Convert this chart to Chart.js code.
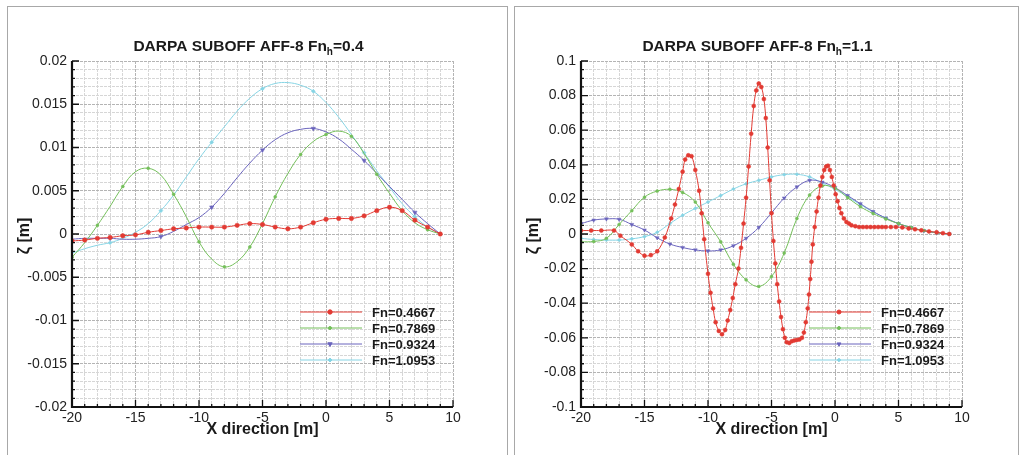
<!DOCTYPE html>
<html>
<head>
<meta charset="utf-8">
<script src="https://cdn.jsdelivr.net/npm/chart.js@4.4.0/dist/chart.umd.min.js"></script>
<style>
  html, body { margin: 0; padding: 0; background: #fff; }
  body { width: 1024px; height: 455px; position: relative; overflow: hidden; }
  .panel { position: absolute; top: 6px; height: 470px; border: 1px solid #a8a8a8; box-sizing: border-box; }
  #p1 { left: 7px; width: 501px; }
  #p2 { left: 514px; width: 505px; }
  canvas { position: absolute; }
  #c1 { left: 8px; top: 7px; }
  #c2 { left: 515px; top: 7px; }
</style>
</head>
<body>
<div class="panel" id="p1"></div>
<div class="panel" id="p2"></div>
<canvas id="c1" width="498" height="448"></canvas>
<canvas id="c2" width="502" height="448"></canvas>
<script>
// legend labels
const seriesNames = ['Fn=0.4667', 'Fn=0.7869', 'Fn=0.9324', 'Fn=1.0953'];

// left chart, Fn_h = 0.4 (x every 1 m)
const xLeft = [-20, -19, -18, -17, -16, -15, -14, -13, -12, -11, -10, -9, -8, -7, -6, -5, -4, -3, -2, -1, 0, 1, 2, 3, 4, 5, 6, 7, 8, 9];
const leftFn04667 = [-0.0008, -0.0007, -0.0005, -0.0004, -0.0002, -0.0001, 0.0002, 0.0004, 0.0006, 0.0007, 0.0008, 0.0008, 0.0008, 0.0010, 0.0012, 0.0011, 0.0008, 0.0006, 0.0008, 0.0013, 0.0017, 0.0018, 0.0018, 0.0021, 0.0027, 0.0031, 0.0027, 0.0016, 0.0008, 0.0000];
const leftFn07869 = [-0.0027, -0.0010, 0.0010, 0.0032, 0.0055, 0.0072, 0.0076, 0.0068, 0.0046, 0.0020, -0.0009, -0.0029, -0.0038, -0.0032, -0.0015, 0.0012, 0.0043, 0.0070, 0.0092, 0.0107, 0.0115, 0.0119, 0.0113, 0.0093, 0.0069, 0.0047, 0.0027, 0.0013, 0.0005, 0.0000];
const leftFn09324 = [-0.0006, -0.0005, -0.0005, -0.0005, -0.0006, -0.0006, -0.0005, -0.0003, 0.0003, 0.0011, 0.0019, 0.0031, 0.0047, 0.0065, 0.0082, 0.0097, 0.0109, 0.0117, 0.0121, 0.0122, 0.0118, 0.0110, 0.0098, 0.0085, 0.0070, 0.0055, 0.0040, 0.0025, 0.0012, 0.0000];
const leftFn10953 = [-0.0022, -0.0017, -0.0013, -0.0010, -0.0005, 0.0002, 0.0012, 0.0027, 0.0045, 0.0066, 0.0087, 0.0106, 0.0124, 0.0142, 0.0157, 0.0168, 0.0174, 0.0175, 0.0172, 0.0165, 0.0152, 0.0135, 0.0115, 0.0094, 0.0073, 0.0054, 0.0035, 0.0020, 0.0008, 0.0000];

// right chart, Fn_h = 1.1
const xRightRed = [-20, -19.2, -18.4, -17.4, -16.9, -16, -15.5, -15, -14.5, -14, -13.4, -12.9, -12.6, -12.3, -12, -11.8, -11.55, -11.3, -11, -10.7, -10.5, -10.3, -10, -9.8, -9.6, -9.4, -9.15, -8.9, -8.65, -8.45, -8.25, -8.05, -7.85, -7.6, -7.4, -7.2, -7, -6.8, -6.6, -6.4, -6.2, -6, -5.8, -5.6, -5.45, -5.3, -5.15, -5, -4.85, -4.7, -4.55, -4.4, -4.25, -4.1, -3.95, -3.8, -3.6, -3.4, -3.2, -3, -2.8, -2.6, -2.45, -2.3, -2.15, -2.05, -1.95, -1.85, -1.75, -1.6, -1.45, -1.3, -1.15, -1, -0.85, -0.7, -0.55, -0.4, -0.25, -0.1, 0.05, 0.2, 0.35, 0.5, 0.7, 0.9, 1.1, 1.3, 1.6, 1.9, 2.2, 2.5, 2.8, 3.1, 3.4, 3.7, 4, 4.4, 4.8, 5.3, 5.8, 6.3, 6.8, 7.4, 8, 8.5, 9];
const rightFn04667 = [0.002, 0.002, 0.002, 0.002, -0.001, -0.006, -0.010, -0.0125, -0.0122, -0.010, -0.002, 0.009, 0.017, 0.026, 0.036, 0.043, 0.0455, 0.045, 0.037, 0.025, 0.012, -0.003, -0.023, -0.034, -0.043, -0.051, -0.056, -0.058, -0.0555, -0.050, -0.044, -0.037, -0.029, -0.020, -0.008, 0.006, 0.021, 0.039, 0.058, 0.074, 0.083, 0.087, 0.085, 0.078, 0.067, 0.050, 0.031, 0.012, -0.004, -0.017, -0.029, -0.039, -0.048, -0.055, -0.060, -0.0625, -0.063, -0.062, -0.0615, -0.0612, -0.061, -0.060, -0.057, -0.051, -0.043, -0.035, -0.026, -0.016, -0.006, 0.004, 0.013, 0.021, 0.028, 0.033, 0.037, 0.039, 0.0395, 0.037, 0.033, 0.028, 0.023, 0.019, 0.015, 0.012, 0.009, 0.007, 0.006, 0.005, 0.0045, 0.004, 0.004, 0.004, 0.004, 0.004, 0.004, 0.004, 0.004, 0.004, 0.004, 0.0038, 0.0032, 0.0027, 0.0021, 0.0015, 0.001, 0.0005, 0.0];
const xRight = [-20, -19, -18, -17, -16, -15, -14, -13, -12, -11, -10, -9, -8, -7, -6, -5, -4, -3, -2, -1, 0, 1, 2, 3, 4, 5, 6, 7, 8, 9];
const rightFn07869 = [-0.0045, -0.0043, -0.0025, 0.0055, 0.0135, 0.0213, 0.0248, 0.0258, 0.0240, 0.0185, 0.0065, -0.0045, -0.0175, -0.0265, -0.0303, -0.0246, -0.0110, 0.0090, 0.0225, 0.0278, 0.0265, 0.0210, 0.0158, 0.0118, 0.0087, 0.0060, 0.0037, 0.0020, 0.0008, 0.0000];
const rightFn09324 = [0.0060, 0.0080, 0.0087, 0.0085, 0.0055, 0.0023, -0.0022, -0.0058, -0.0078, -0.0092, -0.0098, -0.0092, -0.0068, -0.0025, 0.0038, 0.0122, 0.0208, 0.0272, 0.0310, 0.0300, 0.0268, 0.0222, 0.0175, 0.0130, 0.0092, 0.0060, 0.0037, 0.0019, 0.0007, 0.0000];
const rightFn10953 = [-0.0025, -0.0032, -0.0035, -0.0035, -0.0028, -0.0015, 0.0010, 0.0060, 0.0108, 0.0148, 0.0185, 0.0222, 0.0260, 0.0290, 0.0310, 0.0330, 0.0343, 0.0345, 0.0330, 0.0294, 0.0258, 0.0215, 0.0170, 0.0128, 0.0092, 0.0060, 0.0037, 0.0019, 0.0007, 0.0000];

const FONT = '"Liberation Sans", Arial, sans-serif';
const colors = ['#e23a33', '#74bf5a', '#6a64bd', '#86d4e4'];
const styles = [
  { pointStyle: 'circle', rotation: 0 },
  { pointStyle: 'circle', rotation: 0 },
  { pointStyle: 'triangle', rotation: 180 },
  { pointStyle: 'rectRot', rotation: 0 }
];

function pts(xs, ys) {
  return xs.map((x, i) => ({ x: x, y: ys[i] }));
}

function makeSet(i, xs, ys, radius, step, offset) {
  return {
    label: seriesNames[i],
    data: pts(xs, ys),
    borderColor: colors[i],
    backgroundColor: colors[i],
    borderWidth: 1,
    tension: 0.4,
    pointStyle: styles[i].pointStyle,
    pointRotation: styles[i].rotation,
    pointBorderWidth: 0.5,
    pointRadius: c => ((c.dataIndex + offset) % step === 0 ? radius : 0),
    legendRadius: radius
  };
}

// axes lines + inward ticks, titles, legend
const framePlugin = {
  id: 'frame',
  afterDraw(chart, args, opts) {
    const { ctx, chartArea: a, scales: { x, y } } = chart;
    ctx.save();
    ctx.strokeStyle = '#111';
    ctx.lineWidth = 1.3;
    ctx.beginPath();
    x.ticks.forEach(t => {
      const px = x.getPixelForValue(t.value);
      const len = t.label !== '' ? 7 : 3;
      ctx.moveTo(px, a.bottom);
      ctx.lineTo(px, a.bottom - len);
    });
    y.ticks.forEach(t => {
      const py = y.getPixelForValue(t.value);
      const len = t.label !== '' ? 7 : 3;
      ctx.moveTo(a.left, py);
      ctx.lineTo(a.left + len, py);
    });
    ctx.stroke();
    ctx.lineWidth = 2.2;
    ctx.beginPath();
    ctx.moveTo(a.left, a.top);
    ctx.lineTo(a.left, a.bottom);
    ctx.lineTo(a.right, a.bottom);
    ctx.stroke();

    // title with subscript h
    ctx.fillStyle = '#1a1a1a';
    ctx.textBaseline = 'middle';
    ctx.textAlign = 'left';
    const big = 'bold 15.5px ' + FONT, small = 'bold 10px ' + FONT;
    ctx.font = big;
    const w1 = ctx.measureText(opts.title[0]).width;
    const w3 = ctx.measureText(opts.title[2]).width;
    ctx.font = small;
    const w2 = ctx.measureText(opts.title[1]).width;
    let tx = (a.left + a.right) / 2 - 14 - (w1 + w2 + w3) / 2;
    const ty = a.top - 14;
    ctx.font = big;
    ctx.fillText(opts.title[0], tx, ty);
    ctx.font = small;
    ctx.fillText(opts.title[1], tx + w1, ty + 5);
    ctx.font = big;
    ctx.fillText(opts.title[2], tx + w1 + w2, ty);

    // axis titles
    ctx.textAlign = 'center';
    ctx.font = 'bold 16px ' + FONT;
    ctx.fillText('X direction [m]', (a.left + a.right) / 2, a.bottom + 23);
    ctx.save();
    ctx.translate(a.left - 47, (a.top + a.bottom) / 2 + 2);
    ctx.rotate(-Math.PI / 2);
    ctx.fillText('\u03B6 [m]', 0, 0);
    ctx.restore();

    // legend inside plot
    ctx.font = 'bold 13px ' + FONT;
    ctx.textAlign = 'left';
    chart.data.datasets.forEach((ds, i) => {
      const ly = a.top + 251 + i * 16;
      const lx = a.left + 228;
      ctx.strokeStyle = ds.borderColor;
      ctx.fillStyle = ds.borderColor;
      ctx.lineWidth = 1;
      ctx.beginPath();
      ctx.moveTo(lx, ly);
      ctx.lineTo(lx + 62, ly);
      ctx.stroke();
      Chart.helpers.drawPoint(ctx, {
        pointStyle: ds.pointStyle, rotation: ds.pointRotation,
        radius: ds.legendRadius, borderWidth: 0.5
      }, lx + 30, ly);
      ctx.fillStyle = '#1a1a1a';
      ctx.fillText(ds.label, lx + 72, ly + 1);
    });
    ctx.restore();
  }
};

function gridColor() {
  return c => (c.tick && c.tick.label !== '' ? '#b4b4b4' : '#d6d6d6');
}

function makeChart(id, datasets, yMin, yMax, yStep, yMajor, areaLeft, areaRight, title) {
  const canvas = document.getElementById(id);
  return new Chart(canvas, {
    type: 'line',
    data: { datasets: datasets },
    plugins: [framePlugin],
    options: {
      responsive: false,
      animation: false,
      layout: { padding: { left: 0, top: 54, right: canvas.width - areaRight, bottom: 0 } },
      plugins: {
        legend: { display: false },
        title: { display: false },
        tooltip: { enabled: false },
        frame: { title: title }
      },
      scales: {
        x: {
          type: 'linear', min: -20, max: 10,
          afterFit: s => { s.height = 48; },
          grid: { color: gridColor(), lineWidth: 1, drawTicks: false },
          border: { display: false, dash: [3, 1] },
          ticks: {
            stepSize: 1, maxTicksLimit: 100, autoSkip: false, maxRotation: 0, padding: 3,
            color: '#222', font: { family: FONT, size: 14 },
            callback: v => (v % 5 === 0 ? String(v) : '')
          }
        },
        y: {
          type: 'linear', min: yMin, max: yMax,
          afterFit: s => { s.width = areaLeft; },
          grid: { color: gridColor(), lineWidth: 1, drawTicks: false },
          border: { display: false, dash: [3, 1] },
          ticks: {
            stepSize: yStep, maxTicksLimit: 100, autoSkip: false, padding: 5,
            color: '#222', font: { family: FONT, size: 14 },
            callback: v => (Math.round(v * 1000) % yMajor === 0 ? String(Math.round(v * 1000) / 1000) : '')
          }
        }
      }
    }
  });
}

makeChart('c1', [
  makeSet(0, xLeft, leftFn04667, 2.2, 1, 0),
  makeSet(1, xLeft, leftFn07869, 1.5, 2, 0),
  makeSet(2, xLeft, leftFn09324, 2.5, 4, 1),
  makeSet(3, xLeft, leftFn10953, 2, 4, 1)
], -0.02, 0.02, 0.001, 5, 64, 445, ['DARPA SUBOFF AFF-8 Fn', 'h', '=0.4']);

makeChart('c2', [
  makeSet(0, xRightRed, rightFn04667, 2, 1, 0),
  makeSet(1, xRight, rightFn07869, 1.5, 1, 0),
  makeSet(2, xRight, rightFn09324, 2.2, 1, 0),
  makeSet(3, xRight, rightFn10953, 1.8, 1, 0)
], -0.1, 0.1, 0.005, 20, 66, 447, ['DARPA SUBOFF AFF-8 Fn', 'h', '=1.1']);
</script>
</body>
</html>
